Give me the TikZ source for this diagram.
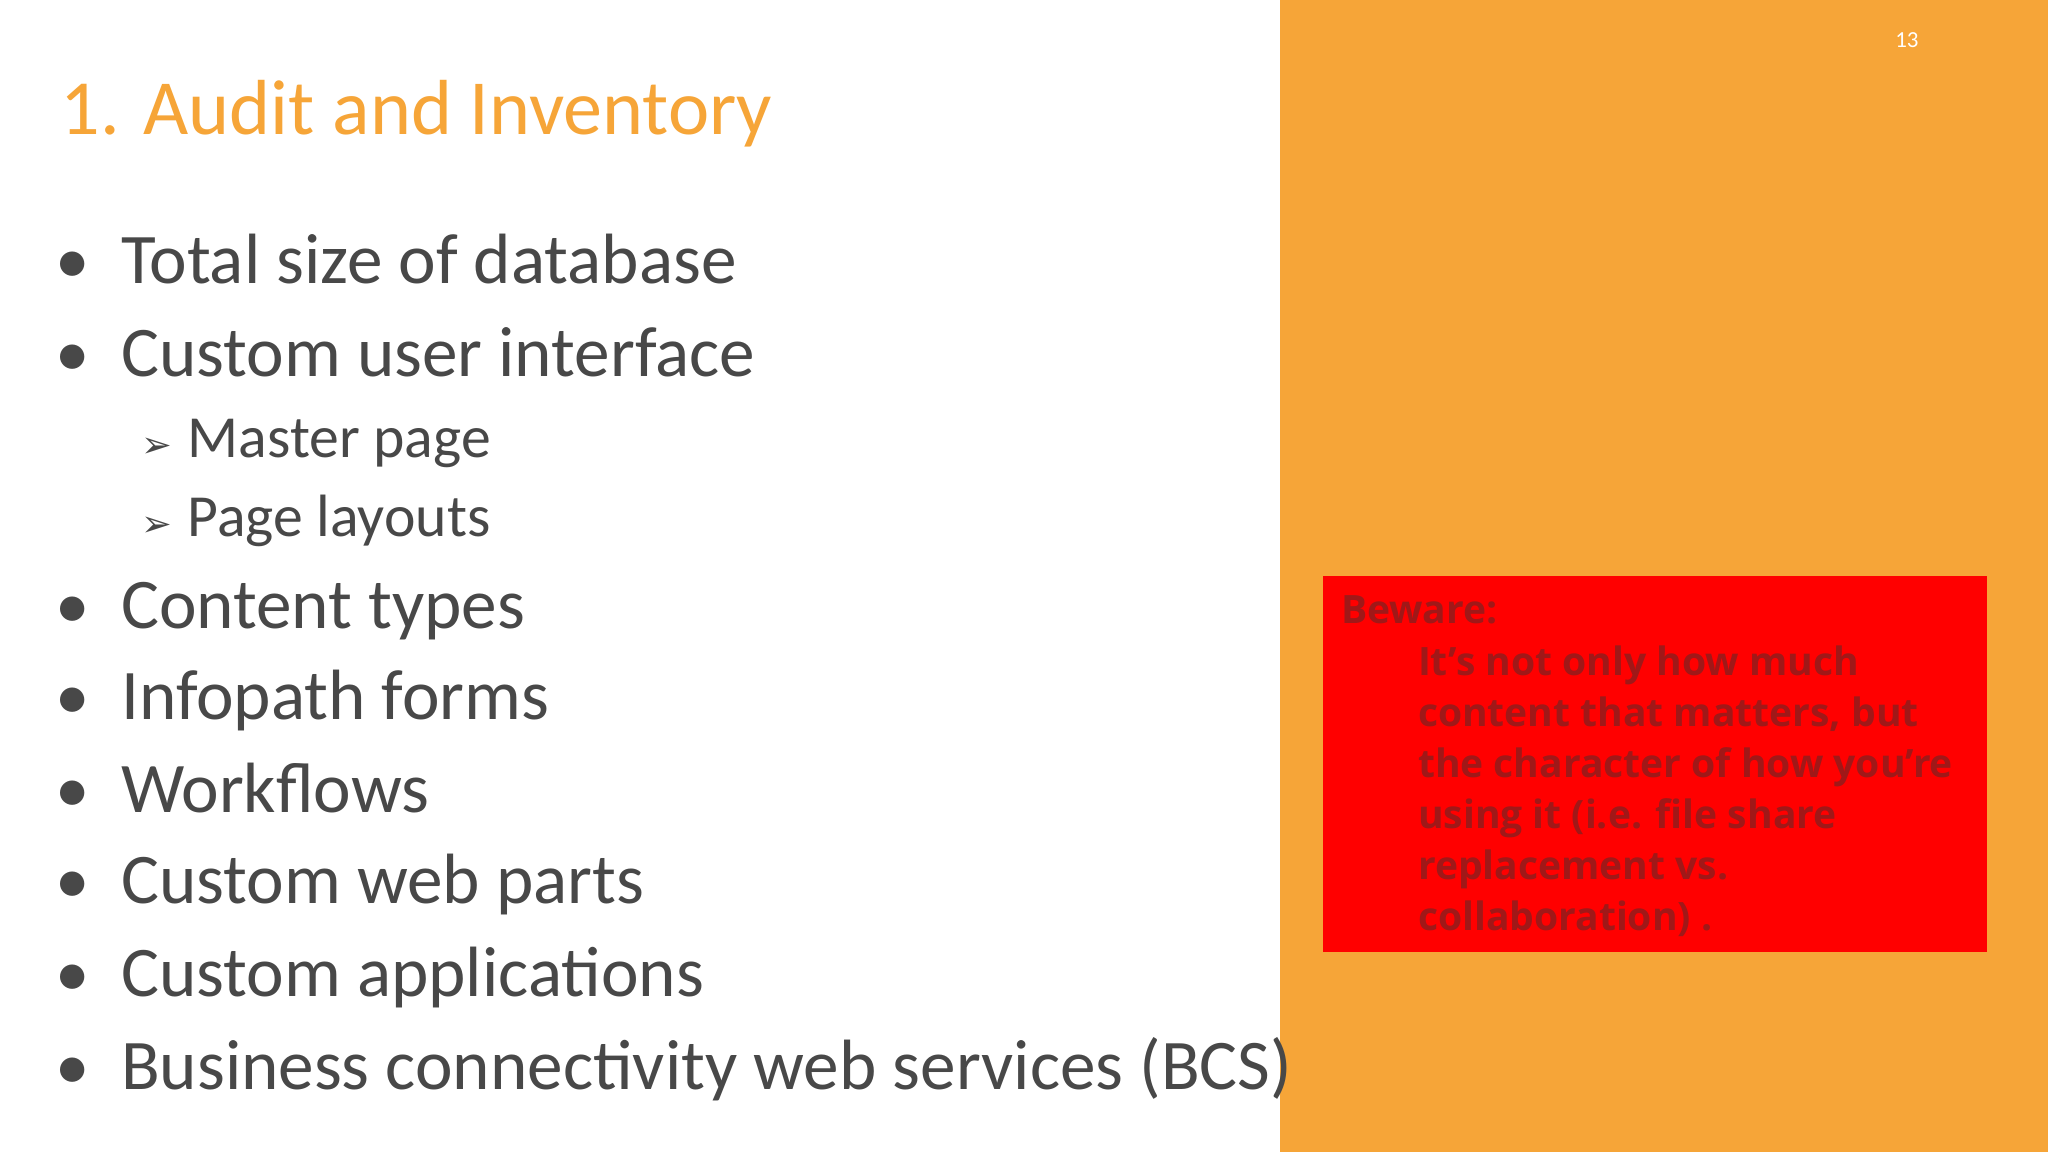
\documentclass[tikz,border=0pt]{standalone}
\usepackage{fontspec}
\setmainfont{Carlito}
\newfontfamily\boxfont{Open Sans}
\newfontfamily\symfont{DejaVu Sans}
\definecolor{orng}{HTML}{F6A538}
\definecolor{bodyg}{HTML}{484848}
\definecolor{boxtxt}{HTML}{A01818}
\begin{document}
\begin{tikzpicture}[x=0.01cm,y=-0.01cm,
  item/.style={anchor=base west,text=bodyg,font=\fontsize{15.5}{18}\selectfont,inner sep=0},
  sub/.style={anchor=base west,text=bodyg,font=\fontsize{13}{15}\selectfont,inner sep=0},
  dot/.style={anchor=base,text=bodyg,font=\fontsize{15}{18}\selectfont,inner sep=0}]
\useasboundingbox (0,0) rectangle (1568,882);
\fill[white] (0,0) rectangle (980,882);
\fill[orng] (980,0) rectangle (1568,882);
\node[anchor=base west,inner sep=0,text=orng,font=\fontsize{17}{20}\selectfont] (title) at (46,103) {1. Audit and Inventory};
\node[anchor=base,inner sep=0,text=white,font=\fontsize{5}{6}\selectfont] (pg) at (1460,36) {13};
\foreach \y/\t [count=\i] in {217/Total size of database,288/Custom user interface,481/Content types,551/Infopath forms,622/Workflows,692/Custom web parts,763/Custom applications,834/Business connectivity web services (BCS)}{
  \node[dot] (b\i) at (56,\y) {•};
  \node[item] (t\i) at (92,\y) {\t};
}
\node[sub] (s1a) at (108,350) {\symfont\fontsize{8}{10}\selectfont ➢};
\node[sub] (s1) at (143,350) {Master page};
\node[sub] (s2a) at (108,411) {\symfont\fontsize{8}{10}\selectfont ➢};
\node[sub] (s2) at (143,411) {Page layouts};
\fill[red] (1013,441) rectangle (1521,729);
\node[anchor=base west,inner sep=0,text=boxtxt,font=\boxfont\bfseries\fontsize{8.5}{11}\selectfont] (bw) at (1026,477) {Beware:};
\node[anchor=north west,inner sep=0,text=boxtxt,align=left,font=\boxfont\bfseries\fontsize{8.5}{11.1}\selectfont] (bt) at (1085,494) {It’s not only how much\\content that matters, but\\the character of how you’re\\using it (i.e. file share\\replacement vs.\\collaboration) .};
\end{tikzpicture}
\end{document}
